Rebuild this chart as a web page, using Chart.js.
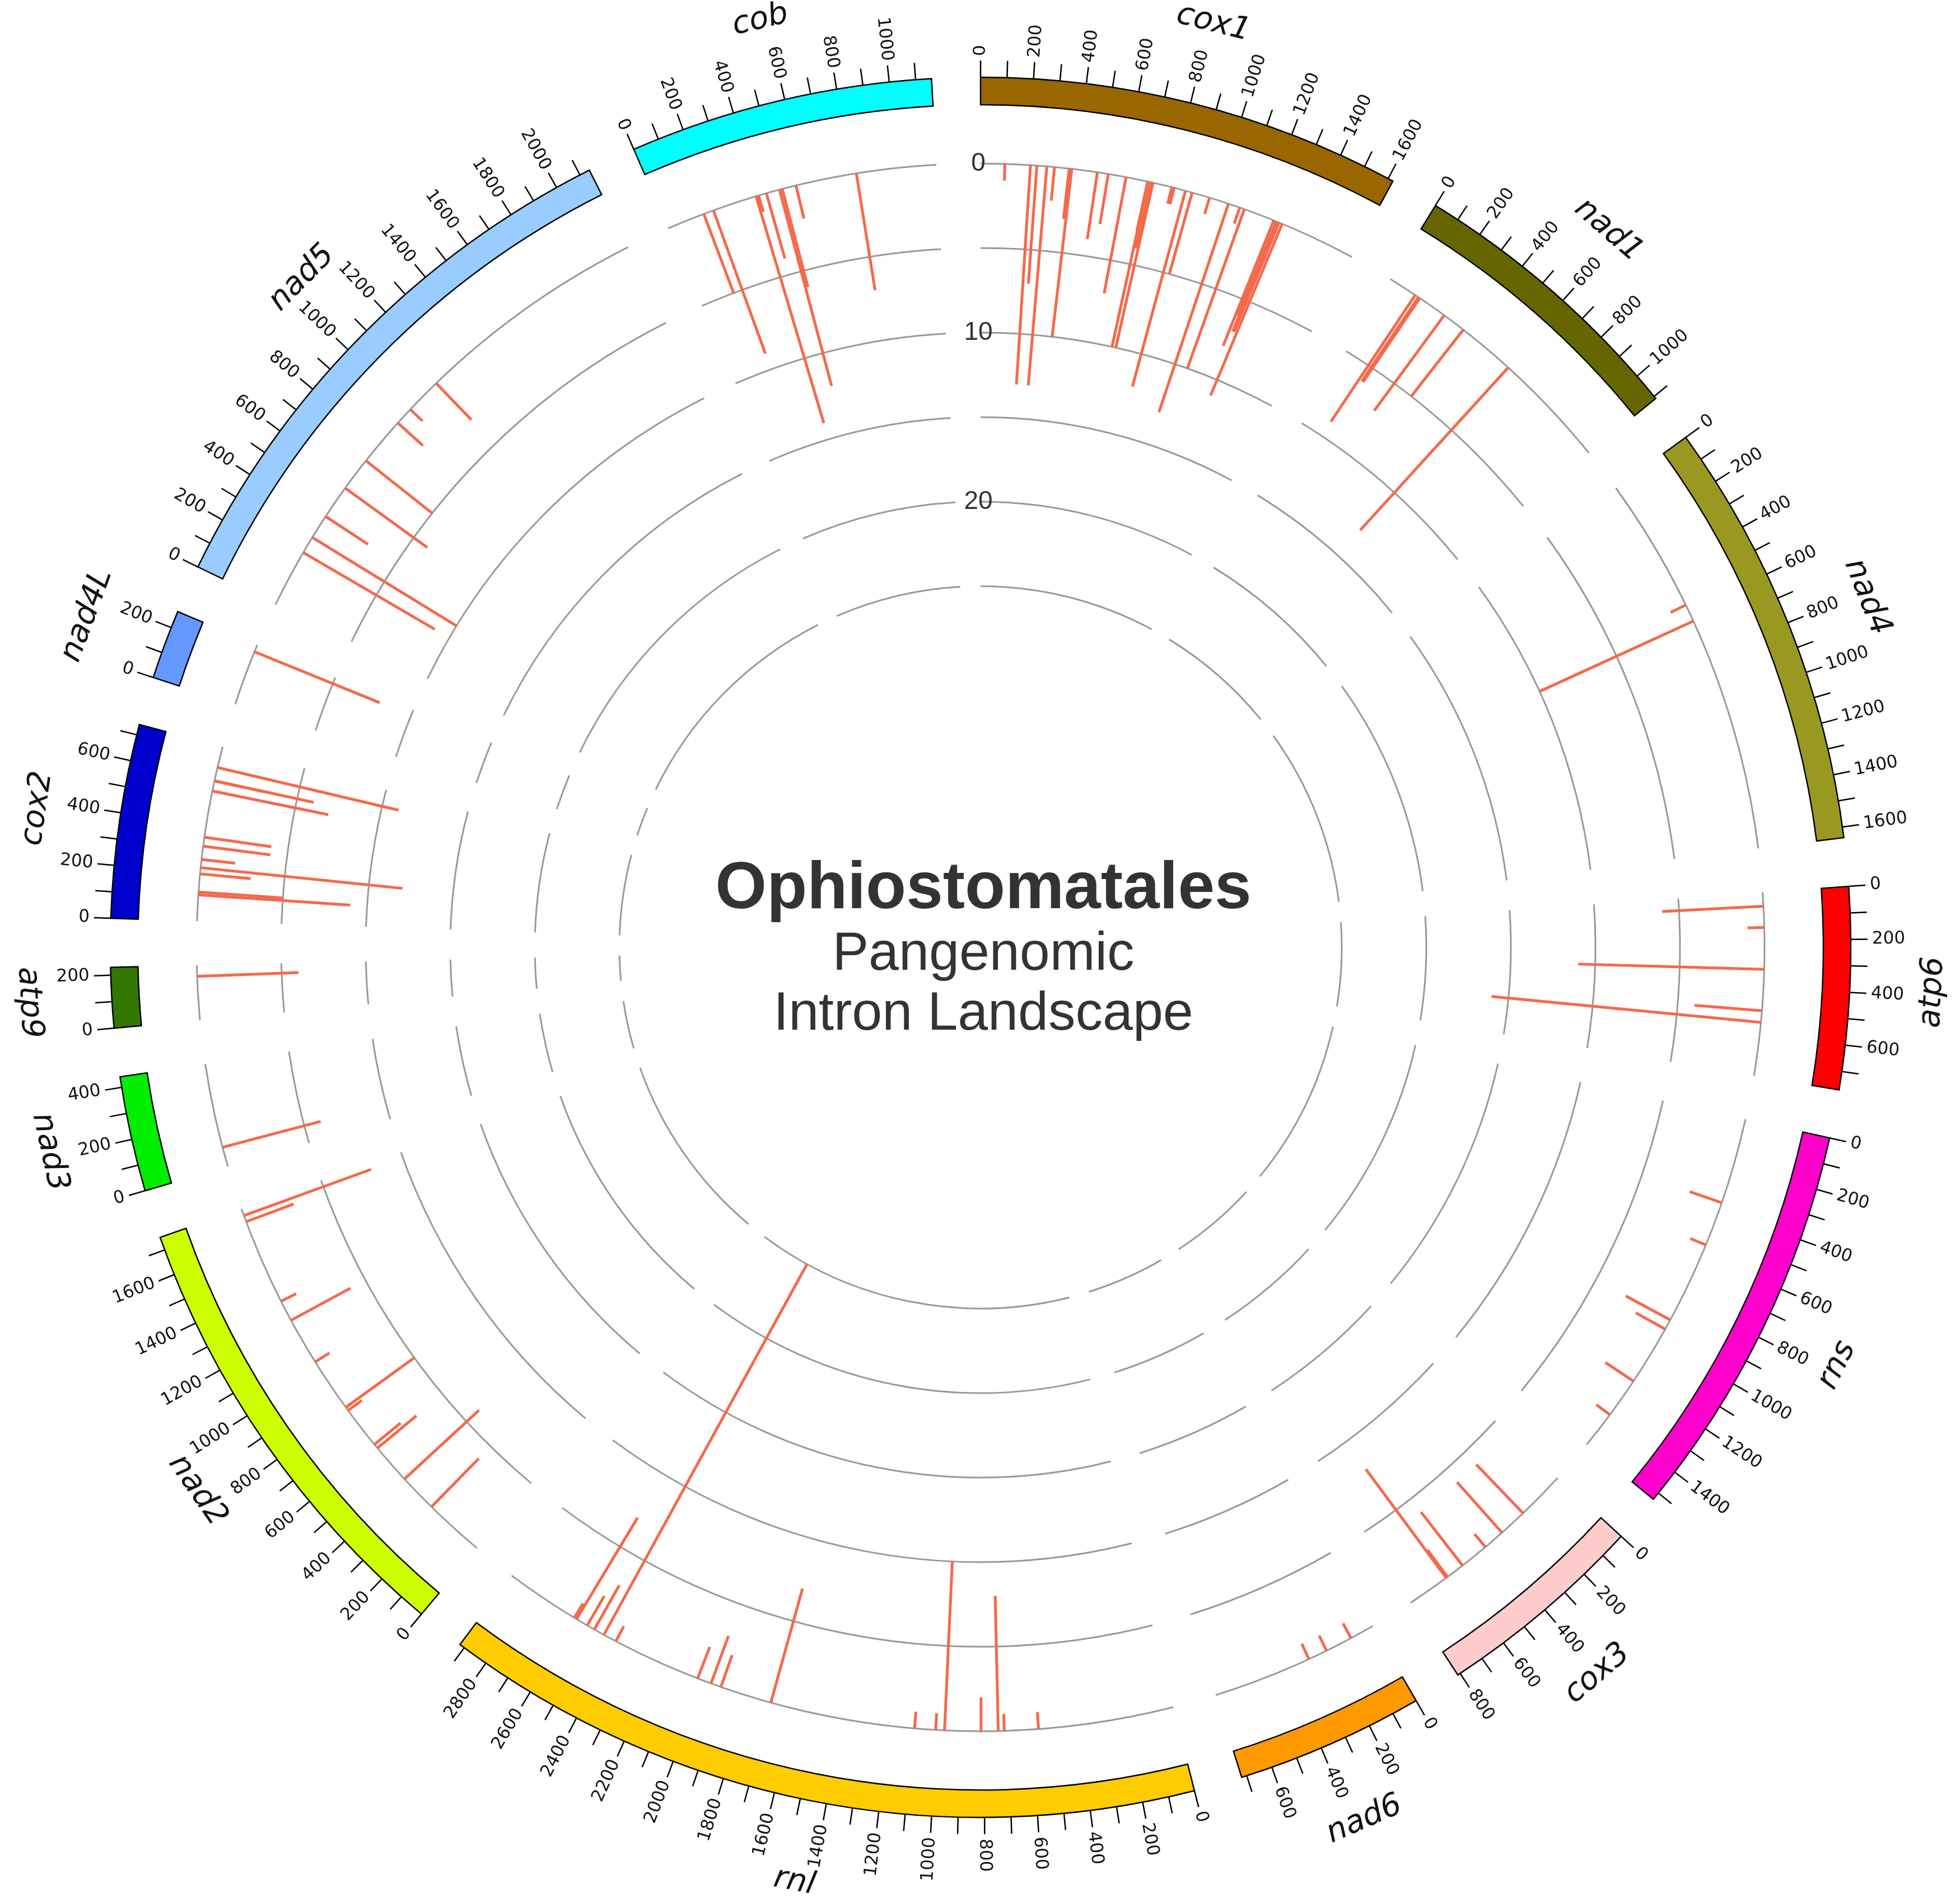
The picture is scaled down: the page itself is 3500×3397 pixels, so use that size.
<!DOCTYPE html>
<html>
<head>
<meta charset="utf-8">
<script src="https://cdn.jsdelivr.net/npm/chart.js@4.4.1/dist/chart.umd.min.js"></script>
<style>
  html, body { margin: 0; padding: 0; background: #ffffff; }
  canvas { display: block; }
</style>
</head>
<body>
<canvas id="chart" width="3500" height="3397"></canvas>
<script>
// genes around the circle, clockwise from the top
const genes = ['cox1', 'nad1', 'nad4', 'atp6', 'rns', 'cox3', 'nad6', 'rnl', 'nad2', 'nad3', 'atp9', 'cox2', 'nad4L', 'nad5', 'cob'];
const geneLengths = [1620, 1110, 1640, 770, 1530, 810, 720, 2920, 1750, 440, 230, 740, 265, 2140, 1160];
const geneColors = ['#996600', '#666600', '#999922', '#ff0000', '#ff00cc', '#ffcccc', '#ff9900', '#ffcc00',
                    '#ccff00', '#00ee00', '#337700', '#0000cc', '#6699ff', '#99ccff', '#00ffff'];

// radial scale (0 = outer ring, grows inward)
const ringValues = [0, 5, 10, 15, 20, 25];
const ringLabels = [0, 10, 20];

// intron sites: gene, position (bp), radial value
const intronGene = [
  'cox1','cox1','cox1','cox1','cox1','cox1','cox1','cox1','cox1','cox1','cox1','cox1','cox1','cox1',
  'cox1','cox1','cox1','cox1','cox1','cox1','cox1','cox1','cox1','cox1','cox1','cox1','cox1','cox1',
  'nad1','nad1','nad1','nad1','nad1','nad1',
  'nad4','nad4',
  'atp6','atp6','atp6','atp6','atp6',
  'rns','rns','rns','rns','rns','rns',
  'cox3','cox3','cox3','cox3','cox3','cox3',
  'nad6','nad6','nad6',
  'rnl','rnl','rnl','rnl','rnl','rnl','rnl','rnl','rnl','rnl','rnl','rnl','rnl','rnl','rnl','rnl','rnl',
  'nad2','nad2','nad2','nad2','nad2','nad2','nad2','nad2','nad2','nad2','nad2',
  'nad3',
  'atp9',
  'cox2','cox2','cox2','cox2','cox2','cox2','cox2','cox2','cox2','cox2','cox2',
  'nad4L',
  'nad5','nad5','nad5','nad5','nad5','nad5','nad5','nad5',
  'cob','cob','cob','cob','cob','cob','cob','cob','cob'
];
const intronPos = [
  102, 209, 236, 278, 310, 372, 378, 383, 491, 537, 613, 705, 707, 719,
  728, 809, 819, 868, 897, 973, 1056, 1106, 1126, 1258, 1270, 1275, 1282, 1296,
  124, 140, 147, 272, 372, 618,
  572, 646,
  58, 147, 322, 496, 545,
  364, 553, 901, 945, 1200, 1372,
  207, 327, 419, 542, 621, 628,
  105, 220, 302,
  572, 716, 741, 813, 966, 1003, 1092, 1704, 1923, 1967, 2027, 2403, 2460, 2506, 2540, 2592, 2603,
  257, 419, 591, 611, 791, 807, 1037, 1238, 1328, 1692, 1719,
  84,
  184,
  110, 122, 198, 224, 259, 315, 353, 549, 592, 593, 650,
  234,
  247, 321, 425, 569, 713, 920, 997, 1151,
  161, 204, 392, 403, 437, 494, 506, 565, 823
];
const intronDepth = [
  1, 13, 7, 13, 2, 3, 3, 10, 4, 3, 7, 3, 10, 4,
  10, 1, 1, 12, 5, 1, 13, 1, 10, 8, 6, 7, 7, 11,
  9, 6, 6, 7, 5, 13,
  1, 10,
  6, 1, 11, 4, 16,
  2, 1, 3, 2, 2, 1,
  4, 4, 1, 4, 2, 8,
  1, 1, 1,
  1, 1, 8, 2, 10, 1, 1, 7, 2, 3, 2, 1, 25, 3, 2, 7, 1,
  4, 6, 3, 2, 1, 5, 1, 4, 1, 3, 8,
  6,
  6,
  9, 5, 3, 12, 2, 4, 4, 7, 3, 6, 11,
  8,
  9, 10, 3, 6, 5, 2, 1, 3,
  5, 9, 14, 1, 4, 12, 6, 2, 7
];

// geometry (data units = pixels)
const D2R = Math.PI / 180;
const R0 = 1400, UNIT = 30.2;
const BOX_IN = 1505, BOX_OUT = 1554, TICK_OUT = 1584, TICK_LABEL_R = 1592, NAME_R = 1702;
const GAP = 3.233;

const totalLen = geneLengths.reduce((a, b) => a + b, 0);
const degPerBp = (360 - GAP * genes.length) / totalLen;
const geneStart = [];
let acc = 0;
geneLengths.forEach(len => { geneStart.push(acc); acc += len * degPerBp + GAP; });

function angleOf(gi, bp) { return geneStart[gi] + bp * degPerBp; }
function radiusOf(v) { return R0 - v * UNIT; }
function polar(deg, r) { return { x: r * Math.sin(deg * D2R), y: r * Math.cos(deg * D2R) }; }

const datasets = intronGene.map((g, i) => {
  const a = angleOf(genes.indexOf(g), intronPos[i]);
  return {
    data: [polar(a, radiusOf(0)), polar(a, radiusOf(intronDepth[i]))],
    showLine: true,
    borderColor: '#f4694b',
    borderWidth: 5,
    pointRadius: 0,
    borderCapStyle: 'butt'
  };
});

function radialText(ctx, deg, r, text) {
  const t = ((deg % 360) + 360) % 360;
  ctx.save();
  if (t < 180) {
    ctx.rotate((t - 90) * D2R);
    ctx.textAlign = 'left';
    ctx.fillText(text, r, 0);
  } else {
    ctx.rotate((t + 90) * D2R);
    ctx.textAlign = 'right';
    ctx.fillText(text, -r, 0);
  }
  ctx.restore();
}

function tangentText(ctx, deg, r, text) {
  const t = ((deg % 360) + 360) % 360;
  ctx.save();
  ctx.textAlign = 'center';
  if (t > 90 && t < 270) {
    ctx.rotate((t + 180) * D2R);
    ctx.fillText(text, 0, r);
  } else {
    ctx.rotate(t * D2R);
    ctx.fillText(text, 0, -r);
  }
  ctx.restore();
}

const circosPlugin = {
  id: 'circos',
  beforeDatasetsDraw(chart) {
    const { ctx, scales: { x, y } } = chart;
    const cx = x.getPixelForValue(0), cy = y.getPixelForValue(0);
    const px = v => x.getPixelForValue(v) - cx;
    ctx.save();
    ctx.strokeStyle = '#999999';
    ctx.lineWidth = 3;
    genes.forEach((g, gi) => {
      const a0 = (geneStart[gi] - 90) * D2R;
      const a1 = (geneStart[gi] + geneLengths[gi] * degPerBp - 90) * D2R;
      ringValues.forEach(v => {
        ctx.beginPath();
        ctx.arc(cx, cy, px(radiusOf(v)), a0, a1);
        ctx.stroke();
      });
    });
    ctx.restore();
  },
  afterDatasetsDraw(chart) {
    const { ctx, scales: { x, y } } = chart;
    const cx = x.getPixelForValue(0), cy = y.getPixelForValue(0);
    const px = v => x.getPixelForValue(v) - cx;

    // gene boxes
    ctx.save();
    genes.forEach((g, gi) => {
      const a0 = (geneStart[gi] - 90) * D2R;
      const a1 = (geneStart[gi] + geneLengths[gi] * degPerBp - 90) * D2R;
      ctx.beginPath();
      ctx.arc(cx, cy, px(BOX_OUT), a0, a1);
      ctx.arc(cx, cy, px(BOX_IN), a1, a0, true);
      ctx.closePath();
      ctx.fillStyle = geneColors[gi];
      ctx.fill();
      ctx.lineWidth = 2.5;
      ctx.strokeStyle = '#000000';
      ctx.stroke();
    });

    // ticks and tick labels
    ctx.translate(cx, cy);
    ctx.strokeStyle = '#000000';
    ctx.fillStyle = '#111111';
    ctx.lineWidth = 2.5;
    ctx.font = '31px "DejaVu Sans"';
    ctx.textBaseline = 'middle';
    genes.forEach((g, gi) => {
      for (let bp = 0; bp <= geneLengths[gi]; bp += 100) {
        const a = angleOf(gi, bp);
        const p1 = polar(a, px(BOX_OUT)), p2 = polar(a, px(TICK_OUT));
        ctx.beginPath();
        ctx.moveTo(p1.x, -p1.y);
        ctx.lineTo(p2.x, -p2.y);
        ctx.stroke();
        if (bp % 200 === 0) radialText(ctx, a, px(TICK_LABEL_R), String(bp));
      }
    });

    // gene names
    ctx.font = 'italic 56px "DejaVu Sans"';
    ctx.fillStyle = '#111111';
    genes.forEach((g, gi) => {
      tangentText(ctx, angleOf(gi, geneLengths[gi] / 2), px(NAME_R), g);
    });
    ctx.restore();

    // radial scale labels
    ctx.save();
    ctx.font = '46px "Liberation Sans", Arial, sans-serif';
    ctx.fillStyle = '#333333';
    ctx.textAlign = 'center';
    ctx.textBaseline = 'middle';
    ringLabels.forEach(v => {
      ctx.fillText(String(v), x.getPixelForValue(-4), y.getPixelForValue(radiusOf(v)));
    });

    // title in the middle
    const tx = x.getPixelForValue(5);
    ctx.textBaseline = 'alphabetic';
    ctx.font = 'bold 118px "Liberation Sans", Arial, sans-serif';
    ctx.fillText('Ophiostomatales', tx, y.getPixelForValue(70));
    ctx.font = '97px "Liberation Sans", Arial, sans-serif';
    ctx.fillText('Pangenomic', tx, y.getPixelForValue(-40));
    ctx.fillText('Intron Landscape', tx, y.getPixelForValue(-147));
    ctx.restore();
  }
};

new Chart(document.getElementById('chart'), {
  type: 'scatter',
  data: { datasets: datasets },
  options: {
    responsive: false,
    animation: false,
    devicePixelRatio: 1,
    events: [],
    layout: { padding: 0 },
    plugins: {
      legend: { display: false },
      tooltip: { enabled: false },
      title: { display: false }
    },
    scales: {
      x: { type: 'linear', min: -1751, max: 1749, display: false },
      y: { type: 'linear', min: -1705, max: 1692, display: false }
    }
  },
  plugins: [circosPlugin]
});
</script>
</body>
</html>
